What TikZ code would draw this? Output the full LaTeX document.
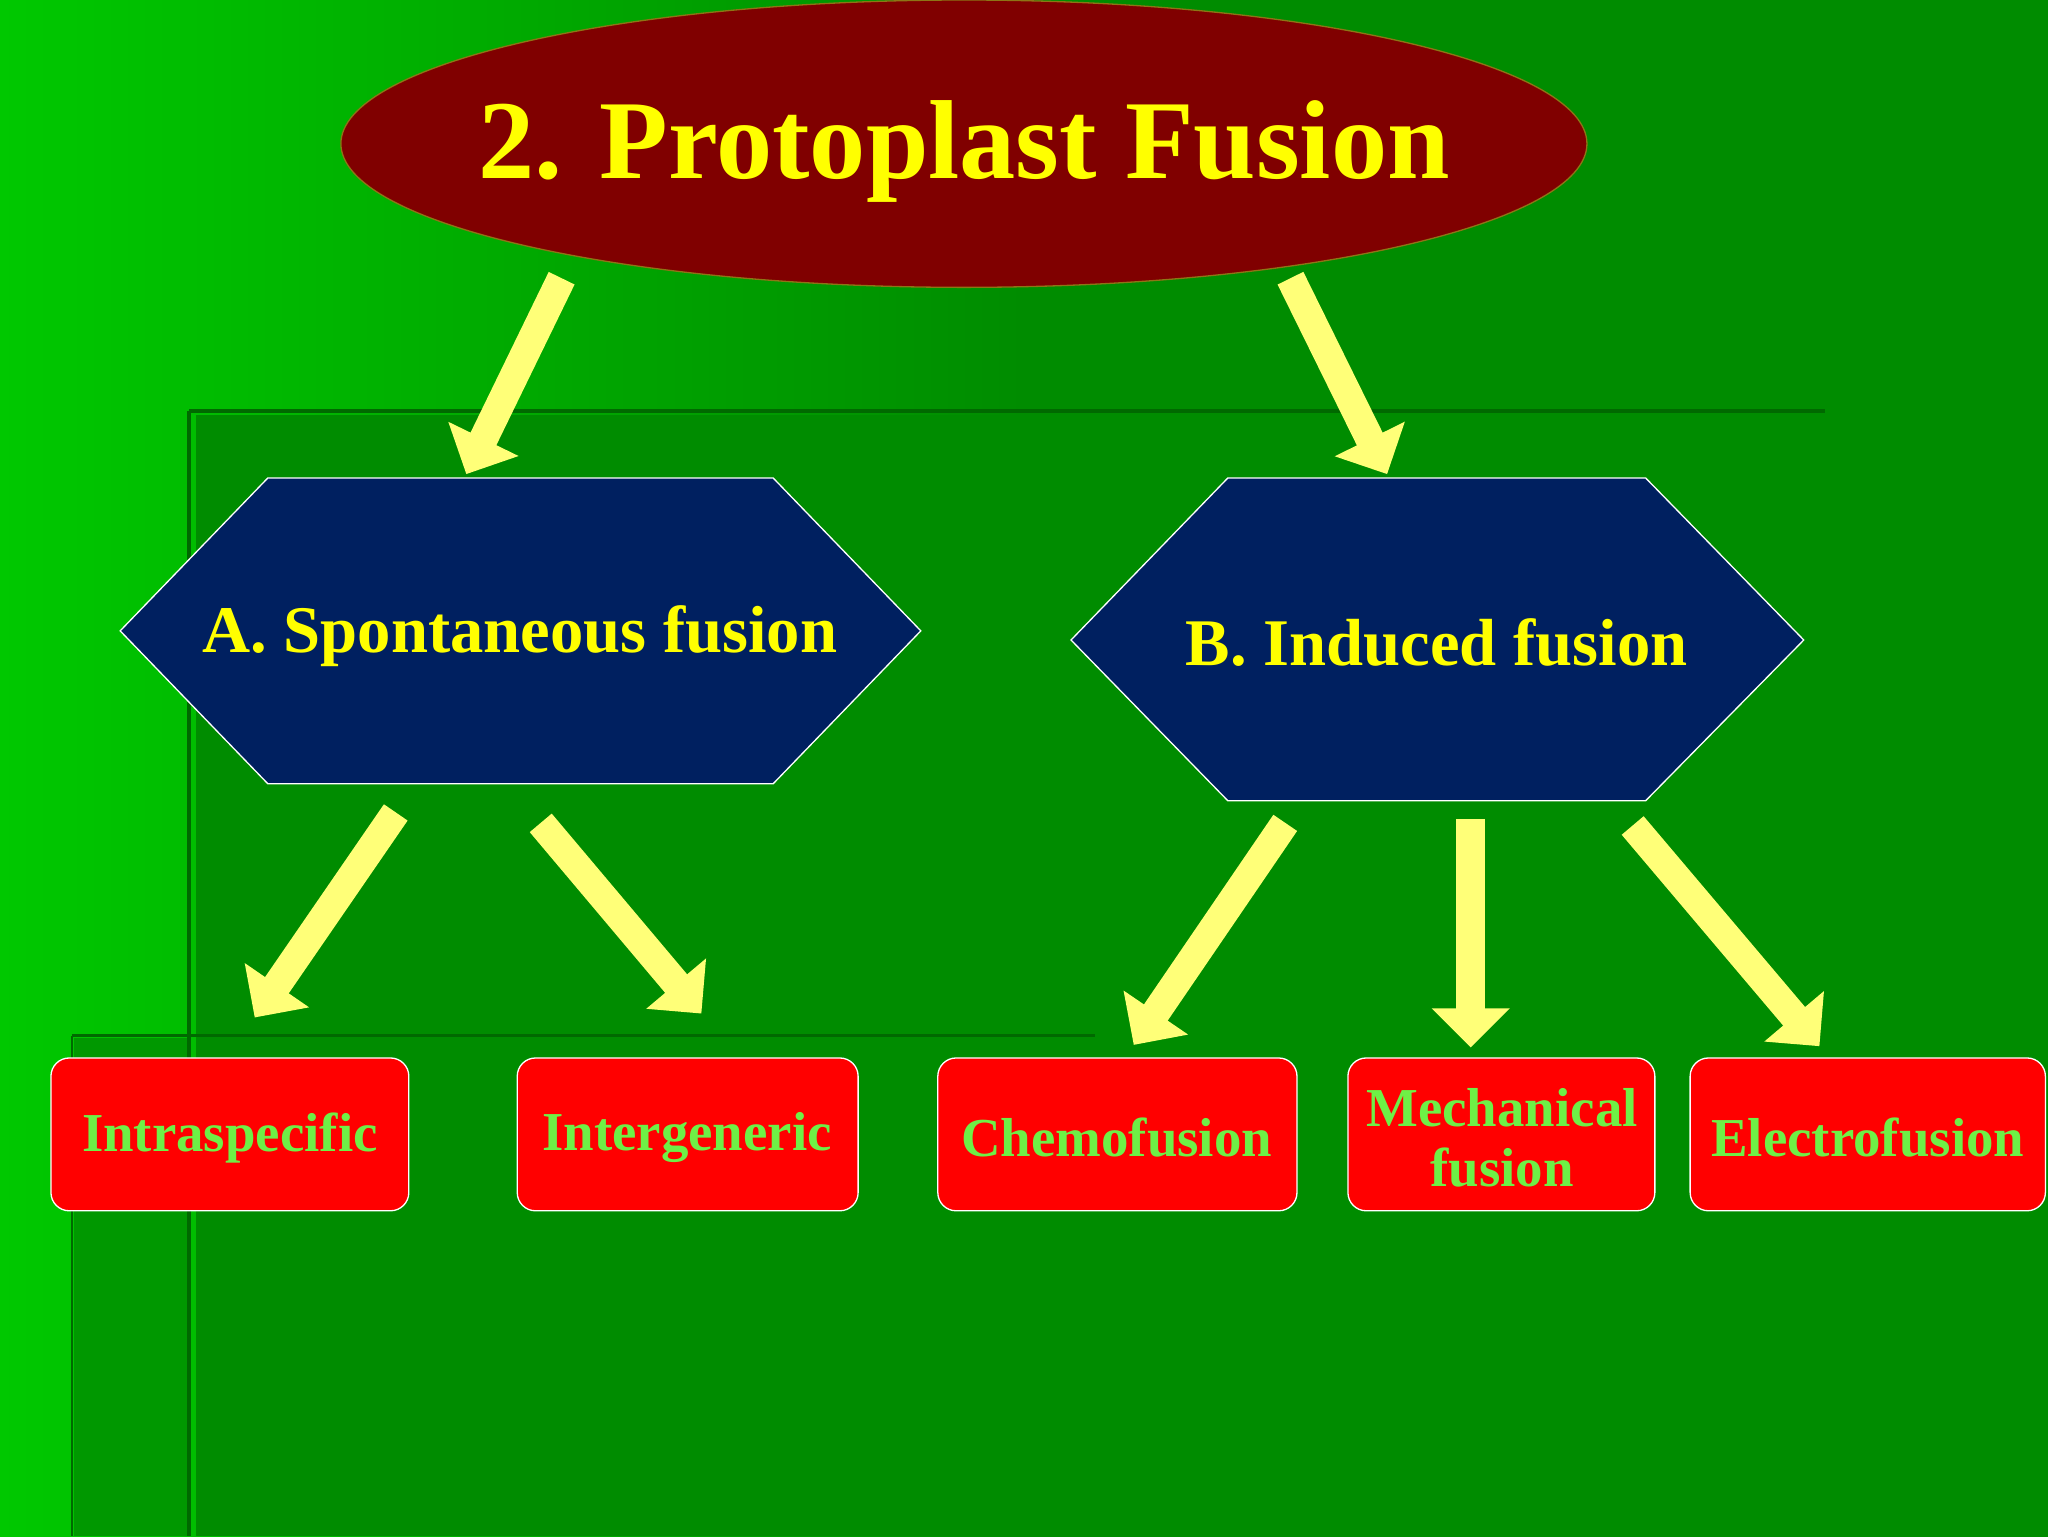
\documentclass[tikz,border=0pt]{standalone}
\usepackage{fontspec}
\setmainfont{Liberation Serif}
\usetikzlibrary{arrows.meta}
\definecolor{bgdark}{RGB}{0,140,0}
\definecolor{bglight}{RGB}{0,200,0}
\definecolor{ellred}{RGB}{128,0,0}
\definecolor{hexblue}{RGB}{0,32,96}
\definecolor{boxred}{RGB}{255,0,0}
\definecolor{txtyellow}{RGB}{255,255,0}
\definecolor{txtgreen}{RGB}{110,240,70}
\definecolor{arryellow}{RGB}{255,255,120}
\definecolor{linegreen}{RGB}{0,105,0}
\begin{document}
\begin{tikzpicture}[yscale=-1,x=1pt,y=1pt
,hexstyle/.style={draw=white,fill=hexblue,line width=1pt}
,boxstyle/.style={draw=white,fill=boxred,line width=1pt,rounded corners=14pt}
,boxtext/.style={text=txtgreen,font=\bfseries\fontsize{42}{46}\selectfont,align=center}
,hextext/.style={text=txtyellow,font=\bfseries\fontsize{51}{51}\selectfont}
,fatarrow/.style={draw=arryellow,line width=22pt,-{Triangle[length=30pt,width=58pt]}}
]
% background
\useasboundingbox (0,0) rectangle (1568,1176);
\shade[left color=bglight,right color=bgdark,middle color=bgdark] (0,0) rectangle (1568,1176);
\fill[bgdark] (150,318) rectangle (1568,1176);
\fill[bgdark!80!bglight] (57,795) rectangle (145,1176);
\draw[linegreen,line width=3pt] (145,315) -- (1397,315);
\draw[linegreen,line width=3pt] (145,315) -- (145,1176);
\draw[linegreen,line width=2pt] (55,793) -- (838,793);
\draw[linegreen,line width=2pt] (55,793) -- (55,1176);
% title
\draw[draw=olive!70!ellred,fill=ellred,line width=1pt] (738,110) ellipse (477pt and 110pt);
\node (title) [text=txtyellow,font=\bfseries\fontsize{86}{86}\selectfont] at (738,116) {2. Protoplast Fusion};
% hexagons
\draw[hexstyle] (92,483) -- (205,366) -- (592,366) -- (705,483) -- (592,600) -- (205,600) -- cycle;
\node (spont) [hextext] at (398,487) {A. Spontaneous fusion};
\draw[hexstyle] (820,490) -- (940,366) -- (1260,366) -- (1381,490) -- (1260,613) -- (940,613) -- cycle;
\node (induced) [hextext] at (1100,492) {B. Induced fusion};
% boxes
\draw[boxstyle] (39,810) rectangle (313,927);
\node (intra) [boxtext] at (176,871) {Intraspecific};
\draw[boxstyle] (396,810) rectangle (657,927);
\node (inter) [boxtext] at (526,871) {Intergeneric};
\draw[boxstyle] (718,810) rectangle (993,927);
\node (chemo) [boxtext] at (855,871) {Chemofusion};
\draw[boxstyle] (1032,810) rectangle (1267,927);
\node (mech) [boxtext] at (1150,871) {Mechanical\\fusion};
\draw[boxstyle] (1294,810) rectangle (1566,927);
\node (electro) [boxtext] at (1430,871) {Electrofusion};
% arrow ends
\coordinate (tA) at (430,213); \coordinate (hA) at (357,363);
\coordinate (tB) at (988,213); \coordinate (hB) at (1062,363);
\coordinate (t1) at (303,622); \coordinate (h1) at (195,779);
\coordinate (t2) at (414,630); \coordinate (h2) at (537,776);
\coordinate (t3) at (984,630); \coordinate (h3) at (868,800);
\coordinate (t4) at (1126,627); \coordinate (h4) at (1126,802);
\coordinate (t5) at (1250,632); \coordinate (h5) at (1393,801);
\foreach \a/\b in {tA/hA,tB/hB,t1/h1,t2/h2,t3/h3,t4/h4,t5/h5}
  \draw[fatarrow] (\a) -- (\b);
\end{tikzpicture}
\end{document}
